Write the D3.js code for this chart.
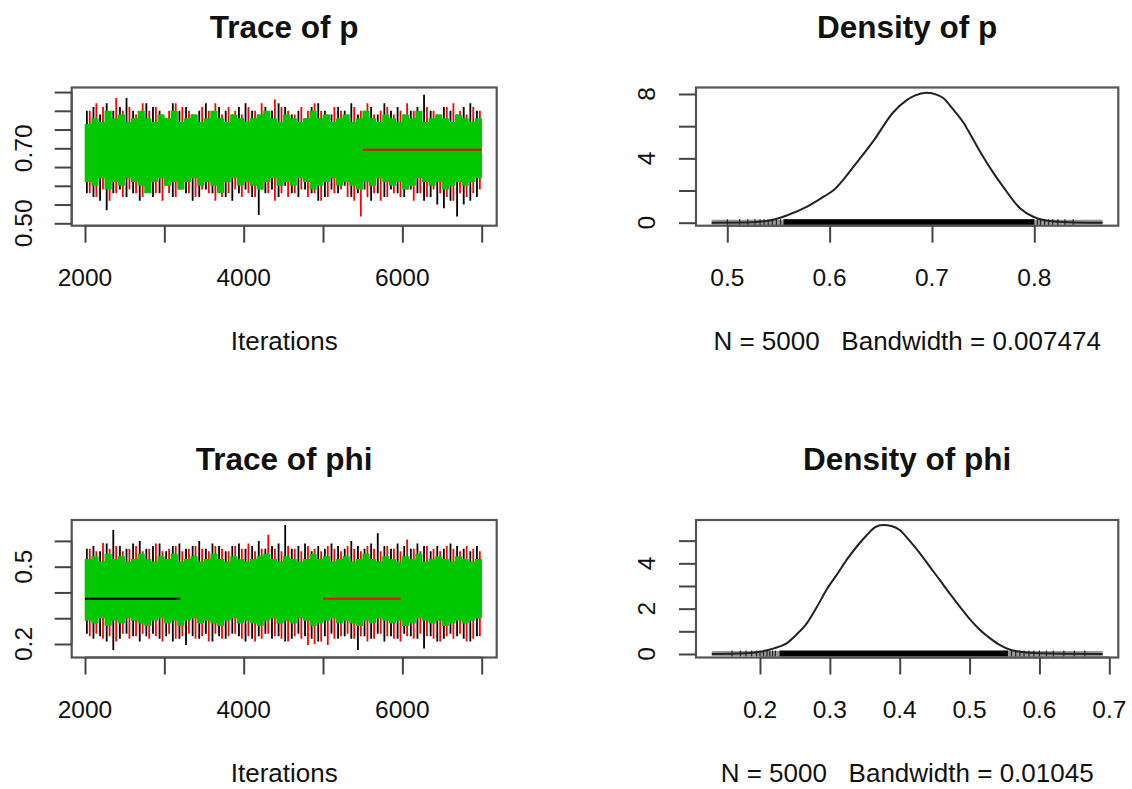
<!DOCTYPE html>
<html>
<head>
<meta charset="utf-8">
<script src="https://cdn.jsdelivr.net/npm/d3@7"></script>
<style>
  html, body { margin: 0; padding: 0; background: #fff; }
  svg { display: block; }
  text { font-family: "Liberation Sans", Arial, Helvetica, sans-serif; fill: #111; white-space: pre; }
</style>
</head>
<body>
<svg id="chart" width="1132" height="789"></svg>
<script>
// ---------------- DATA ----------------
const iterStart = 2000, iterEnd = 7000;
const chainColors = ["#000000", "#ff0000", "#00c800"];   // chain 1, 2, 3

// Trace of p : per-bin (60 bins of ~83 iterations) upper / lower excursions of each chain
const pBlackHi = [0.80,0.81,0.79,0.82,0.80,0.81,0.834,0.80,0.79,0.82,0.81,0.80,0.78,0.82,0.80,0.81,0.79,0.80,0.82,0.79,0.81,0.80,0.79,0.81,0.82,0.80,0.79,0.81,0.80,0.82,0.81,0.79,0.80,0.78,0.81,0.82,0.80,0.79,0.81,0.80,0.82,0.79,0.80,0.81,0.79,0.82,0.80,0.81,0.79,0.80,0.81,0.843,0.80,0.79,0.81,0.80,0.79,0.81,0.82,0.80];
const pBlackLo = [0.58,0.57,0.56,0.535,0.58,0.59,0.57,0.58,0.56,0.59,0.57,0.58,0.60,0.57,0.59,0.58,0.56,0.57,0.59,0.58,0.60,0.57,0.56,0.58,0.59,0.57,0.522,0.58,0.59,0.57,0.60,0.58,0.57,0.59,0.58,0.56,0.57,0.59,0.58,0.60,0.57,0.58,0.59,0.56,0.58,0.57,0.59,0.58,0.57,0.59,0.58,0.56,0.57,0.55,0.54,0.56,0.518,0.55,0.56,0.57];
const pRedHi = [0.80,0.82,0.81,0.79,0.834,0.80,0.81,0.79,0.82,0.80,0.81,0.79,0.80,0.82,0.81,0.80,0.79,0.81,0.80,0.82,0.79,0.81,0.80,0.79,0.81,0.80,0.82,0.79,0.83,0.81,0.80,0.79,0.81,0.80,0.82,0.80,0.79,0.81,0.80,0.79,0.81,0.80,0.82,0.79,0.80,0.81,0.79,0.80,0.82,0.80,0.79,0.81,0.80,0.79,0.81,0.82,0.80,0.79,0.81,0.80];
const pRedLo = [0.58,0.57,0.59,0.56,0.58,0.57,0.59,0.58,0.57,0.59,0.58,0.56,0.58,0.57,0.59,0.58,0.57,0.59,0.58,0.56,0.57,0.58,0.59,0.57,0.58,0.57,0.59,0.58,0.56,0.58,0.57,0.58,0.59,0.57,0.58,0.56,0.57,0.58,0.59,0.57,0.56,0.518,0.57,0.58,0.56,0.57,0.58,0.57,0.59,0.56,0.58,0.57,0.59,0.58,0.57,0.56,0.58,0.57,0.58,0.59];
const pGreenHi = [0.765,0.78,0.77,0.80,0.78,0.79,0.77,0.78,0.80,0.78,0.77,0.79,0.78,0.80,0.77,0.78,0.79,0.77,0.78,0.80,0.78,0.77,0.79,0.78,0.77,0.78,0.79,0.80,0.78,0.77,0.79,0.78,0.77,0.78,0.80,0.78,0.79,0.77,0.78,0.79,0.77,0.78,0.80,0.78,0.77,0.79,0.78,0.77,0.79,0.78,0.80,0.77,0.78,0.79,0.78,0.77,0.79,0.78,0.77,0.78];
const pGreenLo = [0.61,0.60,0.62,0.59,0.61,0.60,0.62,0.61,0.60,0.58,0.61,0.62,0.60,0.61,0.59,0.61,0.62,0.60,0.61,0.60,0.58,0.61,0.62,0.60,0.61,0.60,0.59,0.61,0.62,0.60,0.61,0.60,0.62,0.61,0.59,0.60,0.61,0.62,0.60,0.61,0.60,0.59,0.61,0.60,0.62,0.61,0.60,0.61,0.59,0.60,0.62,0.61,0.60,0.61,0.59,0.60,0.61,0.60,0.61,0.62];
// flat stretch of chain 2 visible in the p trace [from, to, value, chain]
const pFlat = [[5500, 7000, 0.696, 1]];

// Trace of phi
const phiBlackHi = [0.57,0.58,0.56,0.59,0.642,0.58,0.57,0.59,0.60,0.57,0.58,0.59,0.56,0.58,0.59,0.57,0.58,0.60,0.57,0.59,0.58,0.56,0.58,0.59,0.57,0.58,0.60,0.57,0.58,0.59,0.662,0.57,0.58,0.59,0.56,0.58,0.57,0.59,0.58,0.57,0.60,0.58,0.57,0.59,0.63,0.58,0.57,0.59,0.58,0.57,0.59,0.58,0.56,0.58,0.57,0.59,0.58,0.57,0.56,0.58];
const phiBlackLo = [0.24,0.22,0.23,0.21,0.177,0.22,0.24,0.23,0.21,0.23,0.24,0.22,0.23,0.21,0.22,0.196,0.23,0.22,0.24,0.21,0.23,0.22,0.24,0.23,0.21,0.22,0.23,0.24,0.22,0.23,0.21,0.22,0.24,0.23,0.22,0.21,0.23,0.24,0.22,0.23,0.22,0.177,0.23,0.22,0.24,0.21,0.23,0.22,0.24,0.23,0.22,0.183,0.23,0.21,0.22,0.24,0.23,0.22,0.21,0.23];
const phiRedHi = [0.57,0.56,0.592,0.57,0.58,0.56,0.57,0.58,0.56,0.57,0.59,0.56,0.57,0.58,0.56,0.57,0.58,0.57,0.56,0.58,0.57,0.56,0.58,0.57,0.59,0.56,0.57,0.624,0.57,0.56,0.58,0.57,0.56,0.58,0.57,0.56,0.58,0.57,0.56,0.58,0.57,0.56,0.58,0.57,0.56,0.58,0.57,0.56,0.605,0.57,0.56,0.58,0.57,0.56,0.58,0.57,0.56,0.58,0.57,0.56];
const phiRedLo = [0.23,0.24,0.22,0.23,0.21,0.24,0.22,0.23,0.24,0.22,0.23,0.21,0.24,0.22,0.23,0.24,0.22,0.23,0.21,0.24,0.22,0.23,0.24,0.22,0.23,0.21,0.22,0.24,0.23,0.22,0.21,0.23,0.22,0.196,0.20,0.21,0.196,0.22,0.23,0.24,0.22,0.23,0.21,0.22,0.24,0.23,0.22,0.21,0.23,0.22,0.24,0.23,0.22,0.21,0.23,0.22,0.24,0.21,0.22,0.23];
const phiGreenHi = [0.53,0.54,0.52,0.55,0.53,0.54,0.52,0.53,0.55,0.53,0.52,0.54,0.53,0.55,0.52,0.53,0.54,0.52,0.53,0.55,0.53,0.52,0.54,0.53,0.52,0.53,0.54,0.55,0.53,0.52,0.54,0.53,0.52,0.53,0.55,0.53,0.54,0.52,0.53,0.54,0.52,0.53,0.55,0.53,0.52,0.54,0.53,0.52,0.54,0.53,0.55,0.52,0.53,0.54,0.53,0.52,0.54,0.53,0.52,0.53];
const phiGreenLo = [0.29,0.28,0.30,0.27,0.29,0.28,0.30,0.29,0.28,0.27,0.29,0.30,0.28,0.29,0.27,0.29,0.30,0.28,0.29,0.28,0.27,0.29,0.30,0.28,0.29,0.28,0.27,0.29,0.30,0.28,0.29,0.28,0.30,0.29,0.27,0.28,0.29,0.30,0.28,0.29,0.28,0.27,0.29,0.28,0.30,0.29,0.28,0.29,0.27,0.28,0.30,0.29,0.28,0.29,0.27,0.28,0.29,0.28,0.29,0.30];
// flat stretches visible in the phi trace [from, to, value, chain]
const phiFlat = [[2000, 3200, 0.376, 0], [5000, 5980, 0.376, 1]];

// Density of p
const pDensX = [0.4847,0.52,0.54,0.558,0.578,0.595,0.604,0.615,0.623,0.643,0.662,0.675,0.683,0.695,0.705,0.711,0.72,0.731,0.74,0.75,0.76,0.77,0.786,0.799,0.81,0.82,0.84,0.8667];
const pDensY = [0,0.02,0.12,0.45,1.0,1.65,2.03,2.8,3.45,5.1,6.85,7.6,7.9,8.08,7.95,7.75,7.1,6.2,5.2,4.1,3.1,2.2,0.9,0.37,0.15,0.08,0.02,0];
const pRugCore = [0.555, 0.800];
const pRugRange = [0.4847, 0.8667];
const pRugTails = [0.50,0.512,0.52,0.527,0.532,0.536,0.54,0.544,0.548,0.552,0.803,0.806,0.81,0.814,0.818,0.823,0.83,0.838];

// Density of phi
const phiDensX = [0.131,0.18,0.2,0.22,0.238,0.252,0.267,0.281,0.295,0.31,0.324,0.338,0.353,0.365,0.376,0.388,0.40,0.414,0.429,0.443,0.4575,0.472,0.486,0.50,0.515,0.53,0.543,0.557,0.572,0.6,0.6905];
const phiDensY = [0,0.03,0.1,0.25,0.47,0.85,1.35,2.05,2.82,3.5,4.15,4.72,5.25,5.6,5.69,5.65,5.47,5.0,4.44,3.85,3.26,2.65,2.09,1.55,1.06,0.68,0.4,0.2,0.1,0.03,0];
const phiRugCore = [0.228, 0.555];
const phiRugRange = [0.131, 0.6905];
const phiRugTails = [0.16,0.172,0.18,0.188,0.195,0.2,0.205,0.21,0.214,0.218,0.222,0.56,0.566,0.572,0.578,0.585,0.592,0.60,0.61,0.62,0.635,0.65,0.665];

// Ticks and labels
const traceXTicks = [2000,3000,4000,5000,6000,7000];
const traceXLabels = [2000,4000,6000];
const pTraceYTicks = [0.50,0.55,0.60,0.65,0.70,0.75,0.80,0.85];
const pTraceYLabels = ["0.50","0.70"];
const phiTraceYTicks = [0.2,0.3,0.4,0.5,0.6];
const phiTraceYLabels = ["0.2","0.5"];
const pDensXTicks = [0.5,0.6,0.7,0.8];
const pDensYTicks = [0,2,4,6,8];
const pDensYLabels = [0,4,8];
const phiDensXTicks = [0.2,0.3,0.4,0.5,0.6,0.7];
const phiDensYTicks = [0,1,2,3,4,5];
const phiDensYLabels = [0,2,4];

const titles = ["Trace of p", "Density of p", "Trace of phi", "Density of phi"];
const xTitles = ["Iterations", "N = 5000   Bandwidth = 0.007474", "Iterations", "N = 5000   Bandwidth = 0.01045"];

// ---------------- LAYOUT ----------------
const svg = d3.select("#chart");
const FS = 24.5;     // tick label font size
const XFS = 26;      // axis title font size
const TFS = 31.5;    // title font size
const boxStroke = "#555";
const tickLen = 17;

const rows = [
  {top: 87.5, bottom: 225.7, titleY: 37.5, tickLabY: 286, xTitleY: 350},
  {top: 520, bottom: 657.5, titleY: 469.5, tickLabY: 718, xTitleY: 782}
];
const cols = [
  {left: 71.7, right: 496.7, yLabX: 31.5},
  {left: 696, right: 1118.3, yLabX: 655}
];

function panelFrame(g, row, col, title, xTitle, xScale, xTicks, xLabels, yScale, yTicks, yLabels, fmt) {
  g.append("text").attr("x", (col.left + col.right) / 2).attr("y", row.titleY)
    .attr("text-anchor", "middle").attr("font-weight", "bold").attr("font-size", TFS).text(title);
  const xa = d3.axisBottom(xScale).tickValues(xTicks).tickSize(tickLen).tickFormat("");
  const gx = g.append("g").attr("transform", `translate(0,${row.bottom})`).call(xa);
  gx.select(".domain").attr("stroke", boxStroke).attr("stroke-width", 2)
    .attr("d", `M${xScale(xTicks[0])},0H${xScale(xTicks[xTicks.length-1])}`);
  gx.selectAll(".tick line").attr("stroke", "#444").attr("stroke-width", 2);
  g.selectAll(null).data(xLabels).enter().append("text")
    .attr("x", d => xScale(+d)).attr("y", row.tickLabY)
    .attr("text-anchor", "middle").attr("font-size", FS).text(d => fmt ? fmt(d) : d);
  g.append("text").attr("x", (col.left + col.right) / 2).attr("y", row.xTitleY)
    .attr("text-anchor", "middle").attr("font-size", XFS).attr("xml:space", "preserve").text(xTitle);
  const ya = d3.axisLeft(yScale).tickValues(yTicks).tickSize(tickLen).tickFormat("");
  const gy = g.append("g").attr("transform", `translate(${col.left},0)`).call(ya);
  gy.select(".domain").attr("stroke", boxStroke).attr("stroke-width", 2)
    .attr("d", `M0,${yScale(yTicks[0])}V${yScale(yTicks[yTicks.length-1])}`);
  gy.selectAll(".tick line").attr("stroke", "#444").attr("stroke-width", 2);
  g.selectAll(null).data(yLabels).enter().append("text")
    .attr("transform", d => `translate(${col.yLabX},${yScale(+d)}) rotate(-90)`)
    .attr("text-anchor", "middle").attr("font-size", FS).text(d => d);
}

function drawBox(g, row, col) {
  g.append("rect").attr("x", col.left).attr("y", row.top)
    .attr("width", col.right - col.left).attr("height", row.bottom - row.top)
    .attr("fill", "none").attr("stroke", boxStroke).attr("stroke-width", 2.2);
}

function tracePanel(row, col, title, yDomTicks, yRange, yTicks, yLabels, chains, flats) {
  const g = svg.append("g");
  const x = d3.scaleLinear().domain([iterStart, iterEnd]).range([85, 481.7]);
  const y = d3.scaleLinear().domain(yDomTicks).range(yRange);
  const nb = chains[0].hi.length;
  const step = (iterEnd - iterStart) / nb;
  const bw = x(iterStart + step) - x(iterStart);
  chains.forEach((c, ci) => {
    const isCore = ci === 2;
    const path = d3.path();
    c.hi.forEach((h, i) => {
      const xx = x(iterStart + step * (i + 0.5));
      const off = isCore ? 0 : (ci === 0 ? -1 : 1) * bw * 0.22;
      path.moveTo(xx + off, y(h)); path.lineTo(xx + off, y(c.lo[i]));
    });
    g.append("path").attr("d", path.toString()).attr("fill", "none")
      .attr("stroke", chainColors[ci])
      .attr("stroke-width", isCore ? bw + 0.6 : 1.8);
  });
  flats.forEach(f => {
    g.append("line").attr("x1", x(f[0])).attr("x2", x(f[1]))
      .attr("y1", y(f[2])).attr("y2", y(f[2]))
      .attr("stroke", chainColors[f[3]]).attr("stroke-width", 2);
  });
  drawBox(g, row, col);
  panelFrame(g, row, col, title, "Iterations", x, traceXTicks, traceXLabels, y, yTicks, yLabels, null);
}

function densityPanel(row, col, title, xTitle, xDomTicks, xRange, xTicks, yDomTicks, yRange, yTicks, yLabels, dx, dy, rugCore, rugRange, rugTails) {
  const g = svg.append("g");
  const x = d3.scaleLinear().domain(xDomTicks).range(xRange);
  const y = d3.scaleLinear().domain(yDomTicks).range(yRange);
  const y0 = y(0);
  g.append("rect").attr("x", x(rugRange[0])).attr("width", x(rugRange[1]) - x(rugRange[0]))
    .attr("y", y0 - 3).attr("height", 5).attr("fill", "#9a9a9a");
  g.append("rect").attr("x", x(rugCore[0])).attr("width", x(rugCore[1]) - x(rugCore[0]))
    .attr("y", y0 - 3.5).attr("height", 6).attr("fill", "#000");
  g.selectAll(null).data(rugTails).enter().append("line")
    .attr("x1", d => x(d)).attr("x2", d => x(d))
    .attr("y1", y0 - 3.5).attr("y2", y0 + 2.5)
    .attr("stroke", "#222").attr("stroke-width", 1.2);
  const pts = dx.map((v, i) => [v, dy[i]]);
  g.append("path").datum(pts)
    .attr("d", d3.line().x(d => x(d[0])).y(d => y(d[1])).curve(d3.curveMonotoneX))
    .attr("fill", "none").attr("stroke", "#222").attr("stroke-width", 2);
  drawBox(g, row, col);
  panelFrame(g, row, col, title, xTitle, x, xTicks, xTicks, y, yTicks, yLabels, d => d3.format("")(d));
}

tracePanel(rows[0], cols[0], titles[0], [0.50, 0.85], [223.3, 92.05], pTraceYTicks, pTraceYLabels,
  [{hi: pBlackHi, lo: pBlackLo}, {hi: pRedHi, lo: pRedLo}, {hi: pGreenHi, lo: pGreenLo}], pFlat);

tracePanel(rows[1], cols[0], titles[2], [0.2, 0.6], [644, 540.9], phiTraceYTicks, phiTraceYLabels,
  [{hi: phiBlackHi, lo: phiBlackLo}, {hi: phiRedHi, lo: phiRedLo}, {hi: phiGreenHi, lo: phiGreenLo}], phiFlat);

densityPanel(rows[0], cols[1], titles[1], xTitles[1], [0.5, 0.8], [727.3, 1034.3], pDensXTicks,
  [0, 8], [222.7, 94], pDensYTicks, pDensYLabels, pDensX, pDensY, pRugCore, pRugRange, pRugTails);

densityPanel(rows[1], cols[1], titles[3], xTitles[3], [0.2, 0.7], [760, 1109.3], phiDensXTicks,
  [0, 5], [654, 540.65], phiDensYTicks, phiDensYLabels, phiDensX, phiDensY, phiRugCore, phiRugRange, phiRugTails);
</script>
</body>
</html>
